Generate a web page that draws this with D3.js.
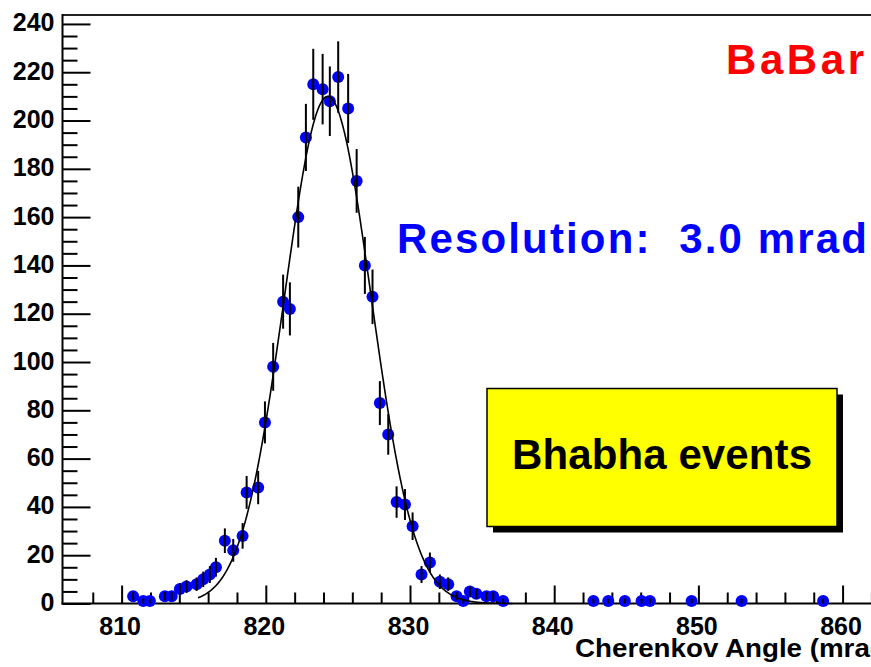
<!DOCTYPE html>
<html>
<head>
<meta charset="utf-8">
<script src="https://cdn.jsdelivr.net/npm/d3@7"></script>
<style>
  html, body { margin: 0; padding: 0; background: #ffffff; overflow: hidden; }
  svg { display: block; }
</style>
</head>
<body>
<svg id="chart" width="871" height="667"></svg>
<script>
// Cherenkov angle distribution for Bhabha events (counts per bin, mrad)
const angles = [
  810.8, 811.5, 811.96, 813.0, 813.47, 814.04, 814.5, 815.2, 815.66, 816.12,
  816.54, 817.16, 817.74, 818.39, 818.67, 819.47, 819.94, 820.51, 821.2, 821.67,
  822.25, 822.78, 823.29, 823.94, 824.44, 825.02, 825.71, 826.3, 826.87, 827.4,
  827.91, 828.49, 829.07, 829.65, 830.18, 830.8, 831.38, 832.07, 832.65, 833.23,
  833.69, 834.15, 834.6, 835.3, 835.77, 836.46, 842.72, 843.75, 844.9, 846.06,
  846.64, 849.53, 853.0, 858.65
];
const counts = [
  3, 1, 1, 3, 3, 6, 7, 8, 10, 12,
  15, 26, 22, 28, 46, 48, 75, 98, 125, 122,
  160, 193, 215, 213, 208, 218, 205, 175, 140, 127,
  83, 70, 42, 41, 32, 12, 17, 9, 8, 3,
  1, 5, 4, 3, 3, 1, 1, 1, 1, 1,
  1, 1, 1, 1
];
const errors = [
  1.7, 1.0, 1.0, 1.7, 1.7, 2.4, 2.6, 2.8, 3.2, 3.5,
  3.9, 5.1, 4.7, 5.3, 6.8, 6.9, 8.7, 9.9, 11.2, 11.0,
  12.6, 13.9, 14.7, 14.6, 14.4, 14.8, 14.3, 13.2, 11.8, 11.3,
  9.1, 8.4, 6.5, 6.4, 5.7, 3.5, 4.1, 3.0, 2.8, 1.7,
  1.0, 2.2, 2.0, 1.7, 1.7, 1.0, 1.0, 1.0, 1.0, 1.0,
  1.0, 1.0, 1.0, 1.0
];

// Axis ticks
const xTickLabels = [810, 820, 830, 840, 850, 860];
const yTickLabels = [0, 20, 40, 60, 80, 100, 120, 140, 160, 180, 200, 220, 240];

// Gaussian fit: amplitude, mean and resolution (sigma) in mrad
const fitAmplitude = 210;
const fitMean = 824.3;
const fitSigma = 3.0;
const fitRange = [815.3, 837.1];

const svg = d3.select("#chart");

const x = d3.scaleLinear().domain([805.9, 866]).range([62.5, 929.1]);
const y = d3.scaleLinear().domain([0, 243.7]).range([603.5, 15]);

const ink = "#000000";
const tickFont = "'Liberation Sans', Arial, Helvetica, sans-serif";

// frame: top edge
svg.append("line")
  .attr("x1", x.range()[0]).attr("x2", x.range()[1])
  .attr("y1", y(243.7)).attr("y2", y(243.7))
  .attr("stroke", "#222").attr("stroke-width", 2);

// y axis: major ticks every 20, minor every 5
const yAxisG = svg.append("g").attr("transform", `translate(${x(805.9)},0)`);
const yMinor = d3.range(5, 243.7, 5).filter(v => v % 20 !== 0);
yAxisG.call(d3.axisRight(y).tickValues(yMinor).tickSize(15).tickFormat(""))
  .call(g => g.select(".domain").remove());
yAxisG.append("g")
  .call(d3.axisRight(y).tickValues(yTickLabels).tickSize(28).tickFormat(""))
  .call(g => g.select(".domain").remove());
yAxisG.selectAll(".tick line").attr("stroke", ink).attr("stroke-width", 2);

svg.append("line")
  .attr("x1", x(805.9)).attr("x2", x(805.9))
  .attr("y1", y(243.7) - 1).attr("y2", y(0) + 1)
  .attr("stroke", ink).attr("stroke-width", 2);

svg.append("g").selectAll("text")
  .data(yTickLabels)
  .join("text")
  .attr("x", 54.5)
  .attr("y", d => y(d) + 7.5)
  .attr("text-anchor", "end")
  .attr("font-family", tickFont)
  .attr("font-weight", "bold")
  .attr("font-size", 25)
  .attr("fill", ink)
  .text(d => d);

// x axis: major ticks every 10, minor every 2
const xAxisG = svg.append("g").attr("transform", `translate(0,${y(0)})`);
const xMinor = d3.range(808, 866, 2).filter(v => v % 10 !== 0);
xAxisG.call(d3.axisTop(x).tickValues(xMinor).tickSize(11).tickFormat(""))
  .call(g => g.select(".domain").remove());
xAxisG.append("g")
  .call(d3.axisTop(x).tickValues(xTickLabels).tickSize(18).tickFormat(""))
  .call(g => g.select(".domain").remove());
xAxisG.selectAll(".tick line").attr("stroke", ink).attr("stroke-width", 2);

svg.append("line")
  .attr("x1", x(805.9) - 1).attr("x2", x.range()[1])
  .attr("y1", y(0)).attr("y2", y(0))
  .attr("stroke", ink).attr("stroke-width", 2);

svg.append("g").selectAll("text")
  .data(xTickLabels)
  .join("text")
  .attr("x", d => x(d) - 1.5)
  .attr("y", 635)
  .attr("text-anchor", "middle")
  .attr("font-family", tickFont)
  .attr("font-weight", "bold")
  .attr("font-size", 25)
  .attr("fill", ink)
  .text(d => d);

svg.append("text")
  .attr("x", 575)
  .attr("y", 656.5)
  .attr("font-family", tickFont)
  .attr("font-weight", "bold")
  .attr("font-size", 25)
  .attr("textLength", 321)
  .attr("lengthAdjust", "spacingAndGlyphs")
  .attr("fill", ink)
  .text("Cherenkov Angle (mrad)");

// data
const points = angles.map((a, i) => ({ a, n: counts[i], e: errors[i] }));

svg.append("g").selectAll("circle")
  .data(points)
  .join("circle")
  .attr("cx", d => x(d.a))
  .attr("cy", d => y(d.n))
  .attr("r", 6)
  .attr("fill", "#0000ff");

svg.append("g").selectAll("line")
  .data(points)
  .join("line")
  .attr("x1", d => x(d.a)).attr("x2", d => x(d.a))
  .attr("y1", d => y(d.n + d.e)).attr("y2", d => y(Math.max(0, d.n - d.e)))
  .attr("stroke", ink)
  .attr("stroke-width", 2);

// fitted Gaussian
const gauss = v => fitAmplitude * Math.exp(-0.5 * Math.pow((v - fitMean) / fitSigma, 2));
const fitX = d3.range(fitRange[0], fitRange[1] + 1e-9, 0.05);
svg.append("path")
  .datum(fitX)
  .attr("d", d3.line().x(v => x(v)).y(v => y(gauss(v))))
  .attr("fill", "none")
  .attr("stroke", ink)
  .attr("stroke-width", 1.6);

// annotations
const bigFont = "'Liberation Sans', Arial, Helvetica, sans-serif";

svg.append("text")
  .attr("x", 726)
  .attr("y", 74)
  .attr("font-family", bigFont)
  .attr("font-weight", "bold")
  .attr("font-size", 42)
  .attr("textLength", 138)
  .attr("lengthAdjust", "spacing")
  .attr("fill", "#ff0000")
  .text("BaBar");

svg.append("text")
  .attr("x", 397)
  .attr("y", 253)
  .attr("font-family", bigFont)
  .attr("font-weight", "bold")
  .attr("font-size", 42)
  .attr("textLength", 470)
  .attr("lengthAdjust", "spacing")
  .attr("fill", "#0000ff")
  .attr("xml:space", "preserve")
  .style("white-space", "pre")
  .text("Resolution:  3.0 mrad");

// label box with drop shadow
const box = { x: 487, y: 388.5, w: 350, h: 138 };
svg.append("rect")
  .attr("x", box.x + 6).attr("y", box.y + 6)
  .attr("width", box.w).attr("height", box.h)
  .attr("fill", "#000");
svg.append("rect")
  .attr("x", box.x).attr("y", box.y)
  .attr("width", box.w).attr("height", box.h)
  .attr("fill", "#ffff00")
  .attr("stroke", "#000")
  .attr("stroke-width", 1.5);
svg.append("text")
  .attr("x", 512)
  .attr("y", 469)
  .attr("font-family", bigFont)
  .attr("font-weight", "bold")
  .attr("font-size", 42)
  .attr("textLength", 300)
  .attr("lengthAdjust", "spacing")
  .attr("fill", "#000")
  .text("Bhabha events");
</script>
</body>
</html>
